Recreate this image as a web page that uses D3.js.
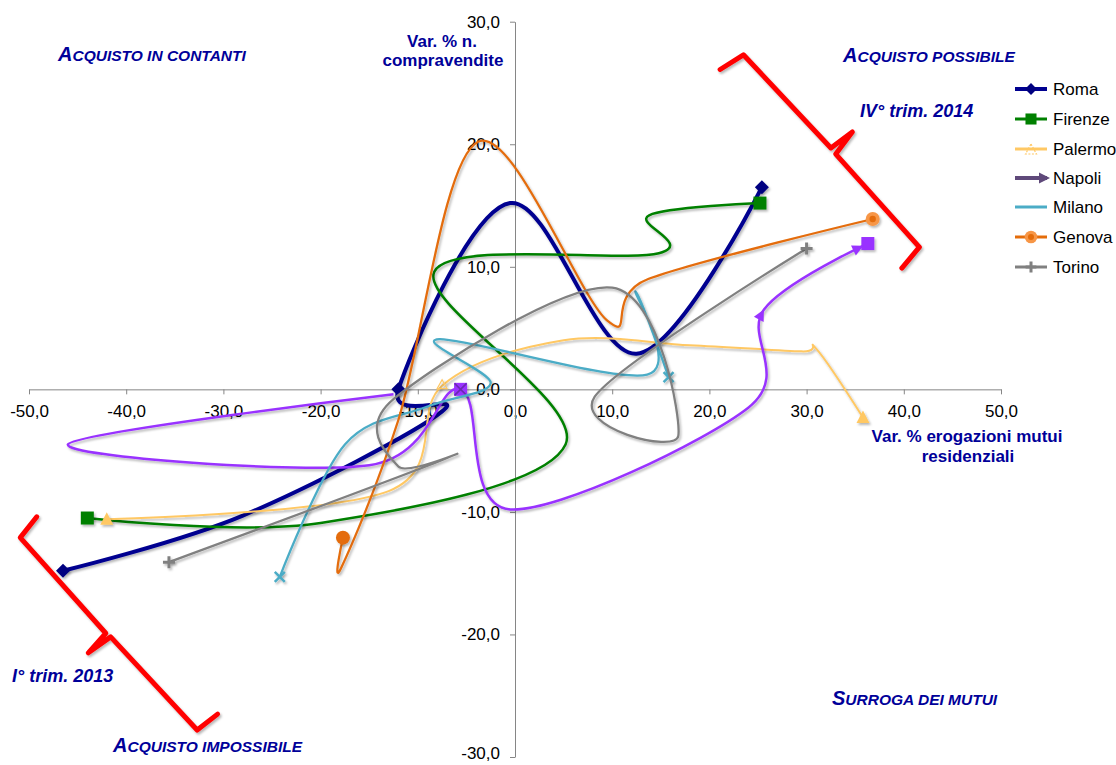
<!DOCTYPE html>
<html><head><meta charset="utf-8">
<script src="https://cdn.jsdelivr.net/npm/d3@7"></script>
<style>
html,body{margin:0;padding:0;background:#fff;}
svg{display:block;font-family:"Liberation Sans",Arial,sans-serif;}
</style></head><body>
<svg id="chart" width="1116" height="765"></svg>
<script>
// ---------- data ----------
const xTicks = [-50,-40,-30,-20,-10,0,10,20,30,40,50];
const yTicks = [-30,-20,-10,0,10,20,30];
const cities = ["Roma","Firenze","Palermo","Napoli","Milano","Genova","Torino"];
const colors = ["#000090","#008000","#FFC864","#9933FF","#4BACC6","#E46C0A","#808080"];
const legendColors = ["#000090","#008000","#FFC864","#5F497A","#4BACC6","#E46C0A","#808080"];
// [x = var. % erogazioni mutui, y = var. % n. compravendite]
const roma    = [[-46.5,-14.8],[-28,-10.3],[-7.5,-1.8],[-12,0],[-0.5,15.2],[12.5,2.9],[25.4,16.5]];
const firenze = [[-44,-10.5],[-20,-10.9],[5.2,-4.5],[-8.3,9.6],[14.8,11.1],[13.8,14.2],[25.2,15.2]];
const palermo = [[-42,-10.6],[-13,-8.3],[-7.5,0.3],[5,4],[18,3.6],[29.5,3.1],[31,3.3],[35.8,-2.3]];
const napoli  = [[-12.5,-0.4],[-46,-4.5],[-15,-6.2],[-5.6,0],[-0.5,-9.8],[24,-1.5],[25.6,6.5],[36.3,11.9]];
const milano  = [[-24.2,-15.3],[-17.5,-4.5],[-9,-1.4],[-2.5,0.5],[-7.8,4.1],[13.6,1.2],[12.4,8.0],[15.8,1.0]];
const genova  = [[-17.7,-12.1],[-17.9,-14.6],[-12,-2.5],[-3.8,20.2],[9.5,5.6],[13.7,9],[36.8,13.9]];
const torino  = [[-35.6,-14.1],[-7,-5.6],[-12,-6.3],[-12.5,-0.8],[10,8.3],[16.8,-3.8],[8.2,-0.6],[30,11.5]];
const seriesData = [roma, firenze, palermo, napoli, milano, genova, torino];
const lineWidths = [4, 2.5, 2, 2.5, 2.25, 2.25, 2.25];
const markerTypes = ["diamond","square","triangle","square","x","circle","plus"];
// indices of points that carry a marker
const markerIdx = [[0,3,6],[0,6],[0,7],[3,7],[0,7],[0,6],[0,7]];
// annotation braces, in data units
const braceTR = [[21.1,26.1],[23.5,27.3],[32.5,19.7],[34.7,21.0],[33.0,19.2],[41.6,11.6],[39.8,9.9]];
const braceBL = [[-49.2,-10.4],[-50.9,-12.1],[-42.1,-19.9],[-43.9,-21.5],[-41.6,-20.2],[-32.7,-27.8],[-30.6,-26.5]];

// ---------- chart ----------
const svg = d3.select("#chart");
const x = d3.scaleLinear().domain([-50,50]).range([29,1001]);
const y = d3.scaleLinear().domain([-30,30]).range([757,21.7]);
const fmt = d => d.toFixed(1).replace(".", ",");
const navy = "#000099";

const defs = svg.append("defs");
defs.append("filter").attr("id","sh").attr("x","-20%").attr("y","-20%").attr("width","140%").attr("height","140%")
  .append("feDropShadow").attr("dx",1.5).attr("dy",2).attr("stdDeviation",1.2)
  .attr("flood-color","#000").attr("flood-opacity",0.28);

// axes
const gx = svg.append("g").attr("transform",`translate(0,${y(0)})`)
  .call(d3.axisBottom(x).tickValues(xTicks).tickFormat(fmt).tickSize(5).tickSizeOuter(0).tickPadding(11));
const gy = svg.append("g").attr("transform",`translate(${x(0)},0)`)
  .call(d3.axisLeft(y).tickValues(yTicks).tickFormat(fmt).tickSize(5).tickSizeOuter(0).tickPadding(10));
[gx,gy].forEach(g=>{
  g.selectAll(".domain").attr("stroke","#868686");
  g.selectAll(".tick line").attr("stroke","#868686");
  g.selectAll("text").attr("fill","#000").style("font-size","17px").style("font-family",'"Liberation Sans",Arial,sans-serif');
});
gy.selectAll(".tick text").filter(d=>d===-30).attr("dy","0.1em");

// braces
const braceLine = d3.line().x(d=>x(d[0])).y(d=>y(d[1]));
[braceTR, braceBL].forEach(b=>{
  svg.append("path").attr("d",braceLine(b)).attr("fill","none").attr("stroke","#FF0000")
    .attr("stroke-width",5).attr("stroke-linejoin","round").attr("stroke-linecap","round").attr("filter","url(#sh)");
});

// series
const line = d3.line().x(d=>x(d[0])).y(d=>y(d[1])).curve(d3.curveCardinal.tension(0));

function marker(g, type, px, py, color, s){
  s = s || 1;
  if(type==="diamond"){
    g.append("path").attr("d",`M${px},${py-7*s}L${px+7*s},${py}L${px},${py+7*s}L${px-7*s},${py}Z`).attr("fill",color);
  } else if(type==="square"){
    g.append("rect").attr("x",px-6.5*s).attr("y",py-6.5*s).attr("width",13*s).attr("height",13*s).attr("fill",color);
  } else if(type==="triangle"){
    g.append("path").attr("d",`M${px},${py-7*s}L${px+6.5*s},${py+5.5*s}L${px-6.5*s},${py+5.5*s}Z`).attr("fill",color);
  } else if(type==="circle"){
    g.append("circle").attr("cx",px).attr("cy",py).attr("r",7*s).attr("fill",color);
  } else if(type==="x"){
    g.append("path").attr("d",`M${px-5*s},${py-5*s}L${px+5*s},${py+5*s}M${px-5*s},${py+5*s}L${px+5*s},${py-5*s}`)
      .attr("stroke",color).attr("stroke-width",2.5);
  } else if(type==="plus"){
    g.append("path").attr("d",`M${px-6*s},${py}L${px+6*s},${py}M${px},${py-6*s}L${px},${py+6*s}`)
      .attr("stroke",color).attr("stroke-width",3);
  }
}
function arrowHead(g, tip, from, color){
  const dx = tip[0]-from[0], dy = tip[1]-from[1], L = Math.hypot(dx,dy);
  const ux = dx/L, uy = dy/L, len = 11, w = 5.5;
  const bx = tip[0]-ux*len, by = tip[1]-uy*len;
  g.append("path").attr("d",`M${tip[0]},${tip[1]}L${bx-uy*w},${by+ux*w}L${bx+uy*w},${by-ux*w}Z`).attr("fill",color);
}

seriesData.forEach((data,i)=>{
  const g = svg.append("g");
  const p = g.append("path").attr("d",line(data)).attr("fill","none").attr("stroke",colors[i])
    .attr("stroke-width",lineWidths[i]).attr("stroke-linejoin","round").attr("filter","url(#sh)");
  const gm = g.append("g").attr("filter","url(#sh)");
  markerIdx[i].forEach(k=>{
    const px = x(data[k][0]), py = y(data[k][1]);
    let col = colors[i];
    if(cities[i]==="Genova" && k===data.length-1){
      marker(gm,"circle",px,py,"#F79646");
      gm.append("circle").attr("cx",px).attr("cy",py).attr("r",3.2).attr("fill","#E46C0A");
      return;
    }
    if(cities[i]==="Roma"){ col = "#000080"; }
    marker(gm, markerTypes[i], px, py, col);
    if(cities[i]==="Napoli" && k===3){
      gm.append("path").attr("d",`M${px-6},${py-6}L${px+6},${py+6}M${px-6},${py+6}L${px+6},${py-6}`)
        .attr("stroke","#6A2AB0").attr("stroke-width",1.5);
    }
  });
  if(cities[i]==="Palermo"){
    const k=2, px=x(data[k][0]), py=y(data[k][1]);
    gm.append("path").attr("d",`M${px},${py-6}L${px+5},${py+3}L${px-5},${py+3}Z`).attr("fill","none")
      .attr("stroke",colors[i]).attr("stroke-width",1.2);
  }
  if(cities[i]==="Napoli"){
    // arrowheads along the path at point 7 and before the end
    const node = p.node(), total = node.getTotalLength();
    const target = [x(data[6][0]), y(data[6][1])];
    let best = 0, bd = 1e9;
    for(let L=0; L<=total; L+=1){
      const q = node.getPointAtLength(L); const d = Math.hypot(q.x-target[0], q.y-target[1]);
      if(d<bd){bd=d;best=L;}
    }
    const a = node.getPointAtLength(best), a0 = node.getPointAtLength(best-8);
    arrowHead(g,[a.x,a.y],[a0.x,a0.y],colors[i]);
    const e = node.getPointAtLength(total-5), e0 = node.getPointAtLength(total-14);
    arrowHead(g,[e.x,e.y],[e0.x,e0.y],colors[i]);
  }
});

// legend
const lg = svg.append("g");
const legY = [89,119,149,178,207,237,267];
cities.forEach((c,i)=>{
  const yy = legY[i], col = legendColors[i];
  lg.append("line").attr("x1",1015).attr("x2",1047).attr("y1",yy).attr("y2",yy)
    .attr("stroke",col).attr("stroke-width", i===0?4:(i===3?4:3));
  const cx = 1031;
  if(i===0) marker(lg,"diamond",cx,yy,"#000080",0.85);
  if(i===1) marker(lg,"square",cx,yy,col,0.85);
  if(i===2) lg.append("path").attr("d",`M${cx},${yy-5}L${cx+5.5},${yy+5}L${cx-5.5},${yy+5}Z`).attr("fill","none")
      .attr("stroke",col).attr("stroke-width",1.2).attr("stroke-dasharray","2,1.5");
  if(i===3) arrowHead(lg,[1050,yy],[1030,yy],col);
  if(i===5){ marker(lg,"circle",cx,yy,"#F79646",0.9); lg.append("circle").attr("cx",cx).attr("cy",yy).attr("r",3).attr("fill","#E46C0A"); }
  if(i===6) marker(lg,"plus",cx,yy,col,0.9);
  lg.append("text").attr("x",1053).attr("y",yy).attr("dy","0.35em").attr("fill","#000")
    .style("font-size","17px").text(c);
});

// annotation texts
function smallCaps(px, py, str){
  const t = svg.append("text").attr("x",px).attr("y",py).attr("fill",navy)
    .style("font-weight","bold").style("font-style","italic");
  t.append("tspan").style("font-size","20px").text(str[0]);
  t.append("tspan").style("font-size","15.5px").text(str.slice(1).toUpperCase());
}
smallCaps(58, 61, "Acquisto in contanti");
smallCaps(843, 62, "Acquisto possibile");
smallCaps(113, 752, "Acquisto impossibile");
smallCaps(832, 705, "Surroga dei mutui");

function boldText(px, py, str, anchor, size, italic){
  svg.append("text").attr("x",px).attr("y",py).attr("text-anchor",anchor||"middle").attr("fill",navy)
    .style("font-weight","bold").style("font-size",(size||17)+"px").style("font-style",italic?"italic":"normal").text(str);
}
boldText(442, 47, "Var. % n.");
boldText(443, 66, "compravendite");
boldText(967, 442, "Var. % erogazioni mutui");
boldText(968, 462, "residenziali");
boldText(860, 117, "IV°  trim. 2014", "start", 18, true);
boldText(12, 682, "I°  trim. 2013", "start", 18, true);
</script>
</body></html>
